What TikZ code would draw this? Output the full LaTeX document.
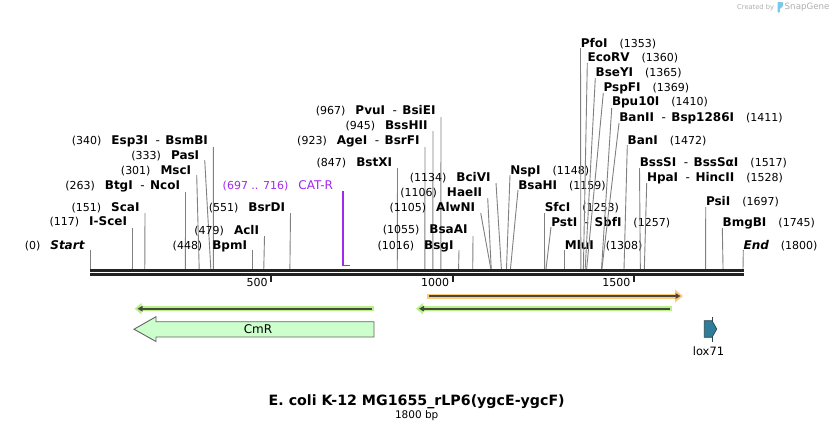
\documentclass[tikz,border=0pt]{standalone}
\usepackage{fontspec}
\setmainfont{DejaVu Sans}
\usetikzlibrary{arrows.meta}

\definecolor{cutgray}{RGB}{128,128,128}
\definecolor{rulerc}{RGB}{34,34,34}
\definecolor{primerp}{RGB}{161,40,240}
\definecolor{orhalo}{RGB}{252,202,125}
\definecolor{grhalo}{RGB}{182,242,135}
\definecolor{innerline}{RGB}{72,72,60}
\definecolor{cmrfill}{RGB}{204,255,204}
\definecolor{cmrdraw}{RGB}{100,100,100}
\definecolor{loxfill}{RGB}{46,126,155}
\definecolor{loxdraw}{RGB}{40,70,80}
\definecolor{wmgray}{RGB}{175,175,175}
\definecolor{wmblue}{RGB}{120,200,240}

\newcommand\bpn[1]{{\fontsize{11}{13}\selectfont\mdseries #1}}
\newcommand\enz[1]{{\fontsize{12}{14}\selectfont\bfseries #1}}
\newcommand\enzsep{\hspace{7.5pt}{\fontsize{12}{14}\selectfont -}\hspace{5.5pt}}
\newcommand\lgap{\hspace{10pt}}
\newcommand\rgap{\hspace{12pt}}

\tikzset{
  cutline/.style={cutgray, line width=0.9pt},
  lbl/.style={inner sep=0pt, outer sep=0pt, text=black},
  rulerline/.style={rulerc, line width=2.7pt},
  rtick/.style={rulerc, line width=1.8pt},
  ticklbl/.style={inner sep=0pt, font=\fontsize{11}{13}\selectfont, anchor=base east},
  halo/.style={line width=5pt},
  inner/.style={innerline, line width=2pt},
}

% left-labelled cut site: id, bp, top-x, top-y, text-y, text
\newcommand\Lsite[6]{%
  \coordinate (#1-b) at ({90+0.36278*#2},269);
  \coordinate (#1-t) at (#3,#4);
  \draw[cutline] (#1-b) -- (#1-t);
  \node[lbl, anchor=base east] (#1) at ({#3-5.5},{#5+4.4}) {#6};
}
% right-labelled cut site
\newcommand\Rsite[6]{%
  \coordinate (#1-b) at ({90+0.36278*#2},269);
  \coordinate (#1-t) at (#3,#4);
  \draw[cutline] (#1-b) -- (#1-t);
  \node[lbl, anchor=base west] (#1) at ({#3+0.3},{#5+4.4}) {#6};
}

\begin{document}
\begin{tikzpicture}[x=1pt,y=-1pt]
\useasboundingbox (0,0) rectangle (834,432);
\fill[white] (0,0) rectangle (834,432);

% watermark
\node[inner sep=0pt, anchor=west, text=wmgray, font=\fontsize{6.7}{8}\selectfont] (wm1) at (737,7.5) {Created by};
\fill[wmblue, rounded corners=0.8pt] (777.5,2) -- (782.8,2) -- (782.8,6.8) -- (779.8,8.6) -- (779.8,12.5) -- (777.5,12.5) -- cycle;
\node[inner sep=0pt, anchor=west, text=wmgray, font=\fontsize{8.7}{10}\selectfont] (wm2) at (784.5,7.5) {SnapGene};

% left-side labels
\Lsite{start}{0}{90}{250}{245}{\bpn{(0)}\lgap\enz{\itshape Start}}
\Lsite{scei}{117}{132.5}{228}{221}{\bpn{(117)}\lgap\enz{I-SceI}}
\Lsite{scai}{151}{145}{213}{207}{\bpn{(151)}\lgap\enz{ScaI}}
\Lsite{btgi}{263}{185.5}{192}{185}{\bpn{(263)}\lgap\enz{BtgI}\enzsep\enz{NcoI}}
\Lsite{msci}{301}{196.7}{175}{170}{\bpn{(301)}\lgap\enz{MscI}}
\Lsite{pasi}{333}{204.7}{160}{155}{\bpn{(333)}\lgap\enz{PasI}}
\Lsite{esp3i}{340}{213.4}{147}{140}{\bpn{(340)}\lgap\enz{Esp3I}\enzsep\enz{BsmBI}}
\Lsite{bpmi}{448}{252.5}{250}{245}{\bpn{(448)}\lgap\enz{BpmI}}
\Lsite{acli}{479}{264.5}{236}{230}{\bpn{(479)}\lgap\enz{AclI}}
\Lsite{bsrdi}{551}{290.5}{213}{207}{\bpn{(551)}\lgap\enz{BsrDI}}
\Lsite{bstxi}{847}{397.5}{168}{161.7}{\bpn{(847)}\lgap\enz{BstXI}}
\Lsite{agei}{923}{425}{147}{140}{\bpn{(923)}\lgap\enz{AgeI}\enzsep\enz{BsrFI}}
\Lsite{bsshii}{945}{433}{131}{125}{\bpn{(945)}\lgap\enz{BssHII}}
\Lsite{pvui}{967}{441}{117}{110}{\bpn{(967)}\lgap\enz{PvuI}\enzsep\enz{BsiEI}}
\Lsite{bsgi}{1016}{459}{250}{245}{\bpn{(1016)}\lgap\enz{BsgI}}
\Lsite{bsaai}{1055}{473}{236}{229.5}{\bpn{(1055)}\lgap\enz{BsaAI}}
\Lsite{alwni}{1105}{480.7}{213}{207}{\bpn{(1105)}\lgap\enz{AlwNI}}
\Lsite{haeii}{1106}{487.7}{198}{192}{\bpn{(1106)}\lgap\enz{HaeII}}
\Lsite{bcivi}{1134}{496}{183}{177}{\bpn{(1134)}\lgap\enz{BciVI}}

% right-side labels
\Rsite{nspi}{1148}{510}{175}{170}{\enz{NspI}\rgap\bpn{(1148)}}
\Rsite{bsahi}{1159}{518}{190}{185}{\enz{BsaHI}\rgap\bpn{(1159)}}
\Rsite{sfci}{1253}{544.5}{213}{207}{\enz{SfcI}\rgap\bpn{(1253)}}
\Rsite{psti}{1257}{551}{227}{222}{\enz{PstI}\enzsep\enz{SbfI}\rgap\bpn{(1257)}}
\Rsite{mlui}{1308}{564.5}{250}{245}{\enz{MluI}\rgap\bpn{(1308)}}
\Rsite{pfoi}{1353}{580.5}{48}{43}{\enz{PfoI}\rgap\bpn{(1353)}}
\Rsite{ecorv}{1360}{587.3}{63}{57}{\enz{EcoRV}\rgap\bpn{(1360)}}
\Rsite{bseyi}{1365}{595.3}{78}{72}{\enz{BseYI}\rgap\bpn{(1365)}}
\Rsite{pspfi}{1369}{603.3}{93}{87}{\enz{PspFI}\rgap\bpn{(1369)}}
\Rsite{bpu}{1410}{611.7}{108}{101.5}{\enz{Bpu10I}\rgap\bpn{(1410)}}
\Rsite{banii}{1411}{619}{123}{117}{\enz{BanII}\enzsep\enz{Bsp1286I}\rgap\bpn{(1411)}}
\Rsite{bani}{1472}{627.3}{145}{140}{\enz{BanI}\rgap\bpn{(1472)}}
\Rsite{bsssi}{1517}{639.5}{168}{162}{\enz{BssSI}\enzsep\enz{BssSαI}\rgap\bpn{(1517)}}
\Rsite{hpai}{1528}{646.7}{183}{177}{\enz{HpaI}\enzsep\enz{HincII}\rgap\bpn{(1528)}}
\Rsite{psii}{1697}{705.7}{207}{201}{\enz{PsiI}\rgap\bpn{(1697)}}
\Rsite{bmgbi}{1745}{722.3}{228}{222}{\enz{BmgBI}\rgap\bpn{(1745)}}
\Rsite{end}{1800}{743.3}{250}{245}{\enz{\itshape End}\rgap\bpn{(1800)}}

% primer CAT-R
\node[lbl, anchor=base east, text=primerp] (catr) at (333,189) {\bpn{(697 .. 716)}\lgap{\fontsize{12}{14}\selectfont CAT-R}};
\coordinate (catr-t) at (343.2,191);
\coordinate (catr-c) at (343.2,265.5);
\coordinate (catr-e) at (350,265.5);
\draw[primerp, line width=1.8pt] (catr-t) -- (catr-c) -- (catr-e);

% ruler
\coordinate (r1s) at (90,270.3);
\coordinate (r1e) at (744,270.3);
\coordinate (r2s) at (90,274.3);
\coordinate (r2e) at (744,274.3);
\draw[rulerline] (r1s) -- (r1e);
\draw[rulerline] (r2s) -- (r2e);
\foreach \v/\lab in {500/500,1000/1000,1500/1500}{
  \coordinate (t\v a) at ({90+0.36278*\v},275.5);
  \coordinate (t\v b) at ({90+0.36278*\v},282.3);
  \draw[rtick] (t\v a) -- (t\v b);
  \node[ticklbl] (tl\v) at ({90+0.36278*\v-3.5},286.2) {\lab};
}

% orange feature (forward)
\coordinate (oa) at (426.7,296);
\coordinate (ob) at (683,296);
\coordinate (oa2) at (429,296);
\coordinate (ob2) at (680.5,296);
\draw[halo, orhalo, -{Triangle[length=8pt,width=12.5pt]}] (oa) -- (ob);
\draw[inner, -{Triangle[length=5pt,width=5.5pt]}] (oa2) -- (ob2);

% green feature right (reverse)
\coordinate (ga) at (672,308.7);
\coordinate (gb) at (416,308.7);
\coordinate (ga2) at (670,308.7);
\coordinate (gb2) at (419,308.7);
\draw[halo, grhalo, -{Triangle[length=7pt,width=11pt]}] (ga) -- (gb);
\draw[inner, -{Triangle[length=5pt,width=5.5pt]}] (ga2) -- (gb2);

% green feature left (reverse)
\coordinate (la) at (374,308.7);
\coordinate (lb) at (134.5,308.7);
\coordinate (la2) at (372,308.7);
\coordinate (lb2) at (137.5,308.7);
\draw[halo, grhalo, -{Triangle[length=7pt,width=11pt]}] (la) -- (lb);
\draw[inner, -{Triangle[length=5pt,width=5.5pt]}] (la2) -- (lb2);

% CmR
\draw[cmrdraw, fill=cmrfill, line width=0.9pt] (374,321.7) -- (156,321.7) -- (156,316.7) -- (134,329.2) -- (156,341.5) -- (156,337) -- (374,337) -- cycle;
\node[inner sep=0pt, font=\fontsize{12}{14}\selectfont] (cmr) at (258,329.3) {CmR};

% lox71
\draw[loxdraw, line width=0.8pt] (712,316.5) -- (712,341.8);
\draw[loxdraw, fill=loxfill, line width=0.7pt] (704.3,320.7) -- (712,320.7) -- (716.8,329) -- (712,337.3) -- (704.3,337.3) -- cycle;
\node[inner sep=0pt, font=\fontsize{11.5}{13}\selectfont] (lox) at (708.5,351) {lox71};

% title
\node[inner sep=0pt, font=\fontsize{14.2}{16}\selectfont\bfseries] (title) at (416.7,401.7) {E. coli K-12 MG1655\_rLP6(ygcE-ygcF)};
\node[inner sep=0pt, font=\fontsize{10.5}{12}\selectfont] (len) at (416.7,415.5) {1800 bp};
\end{tikzpicture}
\end{document}
